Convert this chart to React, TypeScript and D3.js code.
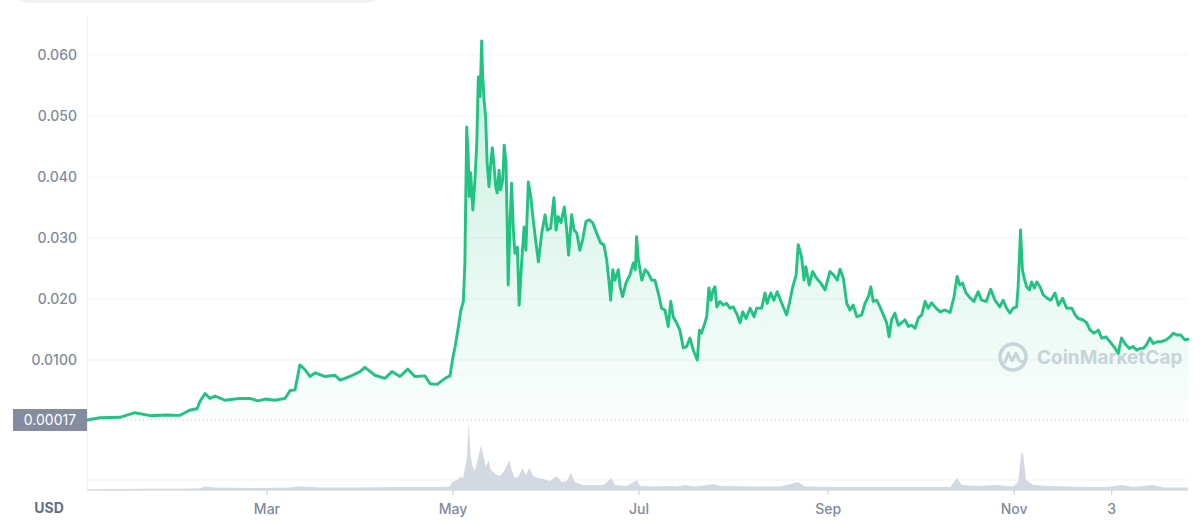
import React, { useEffect, useRef } from 'react';
import * as d3 from 'd3';

const WIDTH = 1200;
const HEIGHT = 521;
const START = Date.UTC(2021, 0, 1);
const DAY = 864e5;
const END_DAY = 361;

// price series: day offset from Jan 1 and price in USD
const priceDays = [
  0, 4.3, 10.8, 15.7, 20.7, 25.6, 30.5, 33.8, 36.1, 37.0, 38.7, 40.3, 42.0, 45.2, 50.2, 53.4, 56.1, 58.4, 61.6, 64.9,
  66.6, 68.2, 69.8, 71.5, 73.1, 74.8, 78.0, 81.3, 83.0, 86.2, 89.5, 91.1, 94.4, 97.7, 100.0, 102.6, 105.2, 107.5, 110.8, 112.5,
  114.8, 117.4, 119.0, 120.0, 120.7, 121.6, 122.6, 123.4, 123.9, 124.5, 125.0, 125.3, 125.8, 126.5, 127.2, 127.8, 128.3, 128.9, 129.4, 129.7,
  130.2, 130.7, 131.2, 131.8, 132.4, 132.9, 133.4, 134.0, 134.5, 135.1, 135.6, 136.3, 136.8, 137.4, 137.8, 138.1, 138.7, 139.2, 139.8, 140.3,
  141.1, 141.7, 142.5, 143.3, 143.9, 144.7, 145.5, 146.3, 147.2, 148.0, 149.1, 150.2, 150.9, 152.0, 153.1, 153.8, 154.5, 155.4, 156.5, 157.3,
  157.9, 158.9, 159.7, 160.6, 161.6, 162.5, 163.6, 164.7, 165.8, 167.1, 168.4, 169.5, 170.4, 171.2, 171.7, 172.4, 173.1, 174.2, 174.8, 175.6,
  176.7, 178.0, 179.1, 179.8, 180.2, 180.8, 181.9, 183.0, 184.0, 185.1, 186.2, 187.3, 188.4, 189.5, 190.6, 191.4, 192.2, 193.3, 194.4, 195.5,
  196.6, 197.7, 198.8, 200.1, 200.8, 201.5, 202.6, 203.2, 203.9, 204.6, 205.3, 205.9, 206.5, 207.5, 208.6, 209.7, 210.8, 211.9, 213.2, 214.1,
  215.0, 216.1, 217.4, 218.7, 219.6, 221.2, 222.3, 223.0, 224.2, 225.2, 226.3, 227.4, 228.3, 229.4, 230.3, 231.4, 232.5, 233.2, 234.3, 235.1,
  235.7, 236.8, 237.9, 239.2, 240.6, 242.0, 243.6, 244.9, 246.0, 246.9, 248.0, 249.1, 250.2, 251.2, 252.4, 254.0, 255.1, 256.2, 257.0, 257.8,
  258.9, 260.0, 261.1, 262.2, 263.0, 263.8, 264.9, 266.0, 267.1, 268.2, 269.3, 270.4, 271.5, 272.6, 273.7, 274.8, 275.8, 276.9, 278.4, 279.7,
  281.3, 283.0, 284.3, 285.3, 286.2, 287.1, 288.2, 289.5, 290.8, 292.2, 293.3, 294.8, 296.3, 297.7, 299.3, 300.4, 301.5, 302.6, 303.7, 304.8,
  305.3, 306.1, 306.7, 307.3, 308.1, 309.0, 309.7, 310.6, 311.4, 312.5, 313.5, 314.9, 316.0, 317.4, 318.5, 319.9, 321.2, 322.9, 324.0, 325.0,
  326.5, 327.8, 328.9, 330.2, 331.6, 332.7, 334.1, 335.4, 336.7, 338.1, 339.2, 340.3, 341.7, 343.0, 344.2, 345.2, 346.3, 347.4, 348.5, 349.6,
  350.9, 352.3, 353.8, 355.1, 356.2, 357.3, 358.6, 360.0, 361.0,
];
const prices = [
  0.00017, 0.00054, 0.00061, 0.00136, 0.00087, 0.00098, 0.00093, 0.0018, 0.0020, 0.0032, 0.0045, 0.0037, 0.0041, 0.0034, 0.0037, 0.0037, 0.0033, 0.0036, 0.0034, 0.0037,
  0.0050, 0.0051, 0.0092, 0.0084, 0.0073, 0.0079, 0.0073, 0.0075, 0.0067, 0.0073, 0.0081, 0.0088, 0.0075, 0.0070, 0.0081, 0.0073, 0.0085, 0.0073, 0.0074, 0.0061,
  0.0060, 0.0070, 0.0074, 0.0105, 0.0122, 0.0149, 0.0182, 0.0196, 0.0259, 0.0482, 0.0433, 0.0368, 0.0407, 0.0346, 0.0395, 0.0456, 0.0564, 0.0532, 0.0623, 0.0570,
  0.0526, 0.0499, 0.0423, 0.0384, 0.0423, 0.0448, 0.0423, 0.0384, 0.0374, 0.0411, 0.0379, 0.0395, 0.0452, 0.0423, 0.0313, 0.0223, 0.0325, 0.0390, 0.0313, 0.0275,
  0.0285, 0.0190, 0.0259, 0.0318, 0.0280, 0.0392, 0.0368, 0.0330, 0.0292, 0.0261, 0.0308, 0.0338, 0.0313, 0.0316, 0.0366, 0.0313, 0.0335, 0.0325, 0.0351, 0.0313,
  0.0272, 0.0338, 0.0313, 0.0308, 0.0280, 0.0297, 0.0327, 0.0330, 0.0325, 0.0308, 0.0292, 0.0289, 0.0264, 0.0226, 0.0198, 0.0248, 0.0231, 0.0248, 0.0220, 0.0204,
  0.0226, 0.0239, 0.0259, 0.0248, 0.0302, 0.0264, 0.0231, 0.0248, 0.0243, 0.0231, 0.0231, 0.0210, 0.0185, 0.0182, 0.0155, 0.0196, 0.0171, 0.0161, 0.0149, 0.0120,
  0.0122, 0.0136, 0.0116, 0.0100, 0.0149, 0.0144, 0.0161, 0.0171, 0.0218, 0.0198, 0.0215, 0.0220, 0.0187, 0.0196, 0.0190, 0.0193, 0.0185, 0.0187, 0.0174, 0.0161,
  0.0179, 0.0168, 0.0185, 0.0171, 0.0185, 0.0185, 0.0210, 0.0193, 0.0210, 0.0198, 0.0212, 0.0198, 0.0187, 0.0174, 0.0193, 0.0220, 0.0239, 0.0289, 0.0269, 0.0231,
  0.0253, 0.0223, 0.0245, 0.0234, 0.0226, 0.0215, 0.0245, 0.0239, 0.0231, 0.0249, 0.0234, 0.0193, 0.0182, 0.0190, 0.0171, 0.0174, 0.0193, 0.0204, 0.0220, 0.0196,
  0.0198, 0.0187, 0.0174, 0.0161, 0.0138, 0.0166, 0.0177, 0.0157, 0.0161, 0.0166, 0.0155, 0.0157, 0.0152, 0.0169, 0.0174, 0.0196, 0.0185, 0.0194, 0.0185, 0.0179,
  0.0182, 0.0178, 0.0204, 0.0237, 0.0223, 0.0226, 0.0210, 0.0202, 0.0196, 0.0212, 0.0198, 0.0196, 0.0216, 0.0198, 0.0187, 0.0198, 0.0185, 0.0177, 0.0185, 0.0187,
  0.0220, 0.0313, 0.0248, 0.0234, 0.0220, 0.0215, 0.0228, 0.0218, 0.0228, 0.0220, 0.0207, 0.0201, 0.0198, 0.0210, 0.0190, 0.0201, 0.0185, 0.0185, 0.0174, 0.0168,
  0.0166, 0.0161, 0.0149, 0.0144, 0.0149, 0.0136, 0.0138, 0.0130, 0.0122, 0.0111, 0.0136, 0.0127, 0.0119, 0.0122, 0.0116, 0.0119, 0.0119, 0.0125, 0.0136, 0.0127,
  0.0130, 0.0130, 0.0133, 0.0138, 0.0144, 0.0141, 0.0141, 0.0133, 0.0134,
];

// volume series: day offset and traded volume (USD millions)
const volumeDays = [
  0, 10.8, 20.7, 30.5, 37.0, 38.7, 42.0, 53.4, 66.6, 69.2, 76.4, 89.5, 102.6, 115.7, 119.0, 119.7, 121.3, 122.3, 123.3, 124.6,
  125.2, 125.8, 126.5, 127.2, 128.3, 129.2, 129.9, 130.8, 131.6, 132.4, 133.2, 134.3, 135.4, 137.0, 138.5, 139.2, 140.3, 141.4, 142.8, 143.9,
  145.0, 146.3, 148.0, 149.6, 151.8, 154.0, 155.6, 157.3, 158.6, 160.0, 162.7, 166.0, 169.3, 172.0, 173.1, 176.9, 180.4, 181.3, 185.7, 190.1,
  193.3, 196.1, 198.8, 201.0, 205.6, 207.5, 220.7, 227.2, 233.1, 235.4, 246.9, 260.0, 273.1, 283.0, 285.3, 286.8, 292.2, 298.3, 303.7, 305.3,
  306.4, 307.0, 307.9, 310.3, 315.7, 321.2, 327.8, 334.3, 339.2, 343.0, 349.6, 352.9, 361.0,
];
const volumes = [
  0.8, 1.0, 1.2, 1.2, 1.8, 3.5, 2.5, 2, 2.5, 3.5, 2.5, 2.5, 3, 3, 3.5, 8, 10, 13, 12, 33,
  68, 33, 23, 20, 33, 45, 35, 23, 30, 20, 18, 15, 14, 20, 30, 20, 12, 13, 22, 15,
  22, 14, 12, 11, 9, 14, 8, 9, 17, 8, 5, 5, 5, 12, 5, 4, 10, 4, 3.5, 4,
  3.5, 5, 3.5, 4, 6, 4, 3.5, 3.5, 8, 3.5, 3, 3, 3, 3, 12, 5, 4, 5, 3.5, 8,
  38, 35, 10, 5, 4, 3.5, 3, 3, 5, 3, 5, 2.5, 2.5,
];

const yTicks = [0.01, 0.02, 0.03, 0.04, 0.05, 0.06];
const yTickLabels = ['0.0100', '0.020', '0.030', '0.040', '0.050', '0.060'];
const xTickDates = ['2021-03-01', '2021-05-01', '2021-07-01', '2021-09-01', '2021-11-01', '2021-12-03'];
const xTickLabels = ['Mar', 'May', 'Jul', 'Sep', 'Nov', '3'];
const firstPriceLabel = '0.00017';
const currencyLabel = 'USD';
const watermark = 'CoinMarketCap';

const PLOT = { left: 87, right: 1188, top: 16, priceBottom: 421, priceTop: 55, volBottom: 490, volTop: 420 };
const GREEN = '#22c283';
const TEXT = '#808a9d';
const FONT = 'Inter, "Noto Sans", sans-serif';

const toDate = (d: number) => new Date(START + d * DAY);

const App = () => {
  const svgRef = useRef<SVGSVGElement | null>(null);

  useEffect(() => {
    if (!svgRef.current) return;
    const svg = d3.select(svgRef.current);
    svg.selectAll('*').remove();

    const x = d3.scaleUtc()
      .domain([toDate(0), toDate(END_DAY)])
      .range([PLOT.left, PLOT.right]);
    const y = d3.scaleLinear()
      .domain([0, 0.06])
      .range([PLOT.priceBottom, PLOT.priceTop]);
    const yVol = d3.scaleLinear()
      .domain([0, 70])
      .range([PLOT.volBottom, PLOT.volTop]);

    const priceData = priceDays.map((d, i) => ({ date: toDate(d), value: prices[i] }));
    const volumeData = volumeDays.map((d, i) => ({ date: toDate(d), value: volumes[i] }));

    // top pill (search bar remnant)
    svg.append('rect')
      .attr('x', 13).attr('y', -30)
      .attr('width', 370).attr('height', 33)
      .attr('rx', 16)
      .attr('fill', '#eff2f5');

    const defs = svg.append('defs');
    const grad = defs.append('linearGradient')
      .attr('id', 'priceFill')
      .attr('gradientUnits', 'userSpaceOnUse')
      .attr('x1', 0).attr('y1', 40)
      .attr('x2', 0).attr('y2', PLOT.priceBottom);
    grad.append('stop').attr('offset', '0%').attr('stop-color', GREEN).attr('stop-opacity', 0.26);
    grad.append('stop').attr('offset', '100%').attr('stop-color', GREEN).attr('stop-opacity', 0.02);

    // grid lines
    svg.append('g')
      .selectAll('line')
      .data(yTicks)
      .enter()
      .append('line')
      .attr('x1', PLOT.left)
      .attr('x2', PLOT.right)
      .attr('y1', d => y(d))
      .attr('y2', d => y(d))
      .attr('stroke', '#f1f3f6')
      .attr('stroke-width', 1);

    svg.append('line')
      .attr('x1', PLOT.left).attr('x2', PLOT.right)
      .attr('y1', 480).attr('y2', 480)
      .attr('stroke', '#f1f3f6');

    // left axis line
    svg.append('line')
      .attr('x1', PLOT.left + 0.5).attr('x2', PLOT.left + 0.5)
      .attr('y1', PLOT.top).attr('y2', PLOT.volBottom)
      .attr('stroke', '#eef0f3');

    // y labels
    svg.append('g')
      .selectAll('text')
      .data(yTicks)
      .enter()
      .append('text')
      .attr('x', 77)
      .attr('y', d => y(d))
      .attr('dy', '0.35em')
      .attr('text-anchor', 'end')
      .attr('fill', TEXT)
      .attr('font-family', FONT)
      .attr('font-size', '14px')
      .attr('font-weight', 500)
      .text((d, i) => yTickLabels[i]);

    // watermark
    const wm = svg.append('g').attr('transform', 'translate(1013, 357)').attr('opacity', 0.9);
    wm.append('circle').attr('r', 13).attr('fill', 'none').attr('stroke', '#cdd1da').attr('stroke-width', 3.5);
    wm.append('path')
      .attr('d', 'M-8,5 L-4.5,-4 L-1,4 L3,-4 L6,3 Q8,6 10,4')
      .attr('fill', 'none')
      .attr('stroke', '#cdd1da')
      .attr('stroke-width', 3)
      .attr('stroke-linejoin', 'round')
      .attr('stroke-linecap', 'round');
    wm.append('text')
      .attr('x', 24)
      .attr('y', 0)
      .attr('dy', '0.36em')
      .attr('fill', '#cdd1da')
      .attr('font-family', FONT)
      .attr('font-size', '19px')
      .attr('font-weight', 700)
      .text(watermark);

    // volume area
    const volArea = d3.area<{ date: Date; value: number }>()
      .x(d => x(d.date))
      .y0(yVol(0))
      .y1(d => yVol(d.value));
    svg.append('path')
      .datum(volumeData)
      .attr('d', volArea)
      .attr('fill', '#d3d8e2');

    // price area + line
    const area = d3.area<{ date: Date; value: number }>()
      .x(d => x(d.date))
      .y0(y(0))
      .y1(d => y(d.value));
    svg.append('path')
      .datum(priceData)
      .attr('d', area)
      .attr('fill', 'url(#priceFill)');

    // first price reference line
    svg.append('line')
      .attr('x1', PLOT.left).attr('x2', PLOT.right)
      .attr('y1', y(prices[0])).attr('y2', y(prices[0]))
      .attr('stroke', '#c4c9d2')
      .attr('stroke-width', 1)
      .attr('stroke-dasharray', '1,3');

    const line = d3.line<{ date: Date; value: number }>()
      .x(d => x(d.date))
      .y(d => y(d.value));
    svg.append('path')
      .datum(priceData)
      .attr('d', line)
      .attr('fill', 'none')
      .attr('stroke', GREEN)
      .attr('stroke-width', 2.9)
      .attr('stroke-linejoin', 'round')
      .attr('stroke-linecap', 'round');

    // first price tag
    const tagY = y(prices[0]);
    svg.append('rect')
      .attr('x', 13).attr('y', tagY - 11)
      .attr('width', PLOT.left - 13).attr('height', 22)
      .attr('fill', '#858ca2');
    svg.append('text')
      .attr('x', (13 + PLOT.left) / 2)
      .attr('y', tagY)
      .attr('dy', '0.35em')
      .attr('text-anchor', 'middle')
      .attr('fill', '#ffffff')
      .attr('font-family', FONT)
      .attr('font-size', '14px')
      .text(firstPriceLabel);

    // x axis
    svg.append('line')
      .attr('x1', PLOT.left).attr('x2', PLOT.right)
      .attr('y1', PLOT.volBottom + 0.5).attr('y2', PLOT.volBottom + 0.5)
      .attr('stroke', '#e3e6eb');

    const tickDates = xTickDates.map(s => new Date(s + 'T00:00:00Z'));
    const xt = svg.append('g');
    xt.selectAll('line')
      .data(tickDates)
      .enter()
      .append('line')
      .attr('x1', d => x(d)).attr('x2', d => x(d))
      .attr('y1', PLOT.volBottom).attr('y2', PLOT.volBottom + 5)
      .attr('stroke', '#c4c9d2');
    xt.selectAll('text')
      .data(tickDates)
      .enter()
      .append('text')
      .attr('x', d => x(d))
      .attr('y', 514)
      .attr('text-anchor', 'middle')
      .attr('fill', TEXT)
      .attr('font-family', FONT)
      .attr('font-size', '14px')
      .attr('font-weight', 500)
      .text((d, i) => xTickLabels[i]);

    svg.append('text')
      .attr('x', 49)
      .attr('y', 513)
      .attr('text-anchor', 'middle')
      .attr('fill', '#616e85')
      .attr('font-family', FONT)
      .attr('font-size', '14px')
      .attr('font-weight', 700)
      .text(currencyLabel);
  }, []);

  return (
    <div style={{ position: 'fixed', left: 0, top: 0, width: WIDTH, height: HEIGHT, background: '#fff' }}>
      <svg ref={svgRef} width={WIDTH} height={HEIGHT} />
    </div>
  );
};

export default App;
